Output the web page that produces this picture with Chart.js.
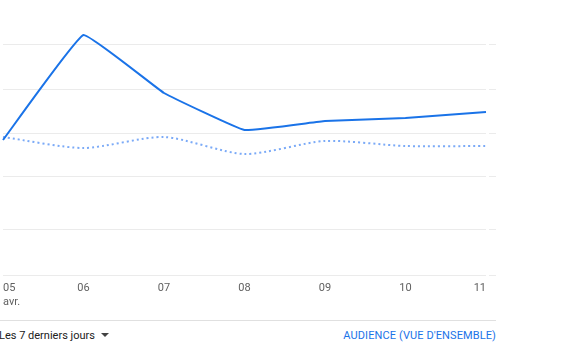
<!DOCTYPE html>
<html><head><meta charset="utf-8">
<script src="https://cdn.jsdelivr.net/npm/chart.js@4"></script>
<style>
html,body{margin:0;padding:0;background:#fff;width:587px;height:350px;overflow:hidden;font-family:Roboto,"Noto Sans",sans-serif;}
#wrap{position:absolute;left:-4px;top:0;width:500px;height:310px;}
#rule{position:absolute;left:0;top:320px;width:496px;height:1px;background:#e0e0e0;}
#left{position:absolute;left:-1px;top:328px;font-size:11px;color:#212121;line-height:16px;}
#left .arr{display:inline-block;width:0;height:0;border-left:4px solid transparent;border-right:4px solid transparent;border-top:4px solid #424242;margin-left:6px;vertical-align:middle;position:relative;top:-1px;}
#right{position:absolute;right:91px;top:328px;font-size:11px;color:#1a73e8;line-height:16px;letter-spacing:0.1px;}
</style></head>
<body>
<div id="wrap"><canvas id="c"></canvas></div>
<div id="rule"></div>
<div id="left">Les 7 derniers jours<span class="arr"></span></div>
<div id="right">AUDIENCE (VUE D'ENSEMBLE)</div>
<script>
const categories = [['05','avr.'],'06','07','08','09','10','11'];
const currentPeriod = [135, 240, 182, 145, 154, 157, 163];
const previousPeriod = [138, 127, 138, 121, 134, 129, 129];
const yTicks = [0, 46, 99, 142, 186, 231];

new Chart(document.getElementById('c'), {
  type: 'line',
  data: {
    labels: categories,
    datasets: [
      {data: currentPeriod, borderColor:'#1a73e8', borderWidth:2, pointRadius:0, tension:0.08, fill:false},
      {data: previousPeriod, borderColor:'#7baaf7', borderWidth:2, borderDash:[2,3], pointRadius:0, tension:0.25, fill:false}
    ]
  },
  options: {
    responsive:true, maintainAspectRatio:false, animation:false,
    layout:{padding:{top:20,left:0,right:0,bottom:0}},
    plugins:{legend:{display:false}, tooltip:{enabled:false}},
    scales:{
      x:{
        offset:false,
        grid:{display:false, drawTicks:false},
        border:{display:false},
        ticks:{align:'inner', maxRotation:0, autoSkip:false, padding:7, color:'#616161', font:{family:'Roboto', size:11}},
        afterFit:s=>{s.height=35;}
      },
      y:{
        position:'right', min:0, max:255,
        afterBuildTicks:s=>{s.ticks = yTicks.map(v=>({value:v}));},
        grid:{color:'#ebebeb', lineWidth:1, drawTicks:true, tickLength:10, tickColor:'#ebebeb', tickBorderDash:[0,3,7,0]},
        border:{display:false},
        ticks:{display:false},
        afterFit:s=>{s.width=10;}
      }
    }
  }
});
</script>
</body></html>
